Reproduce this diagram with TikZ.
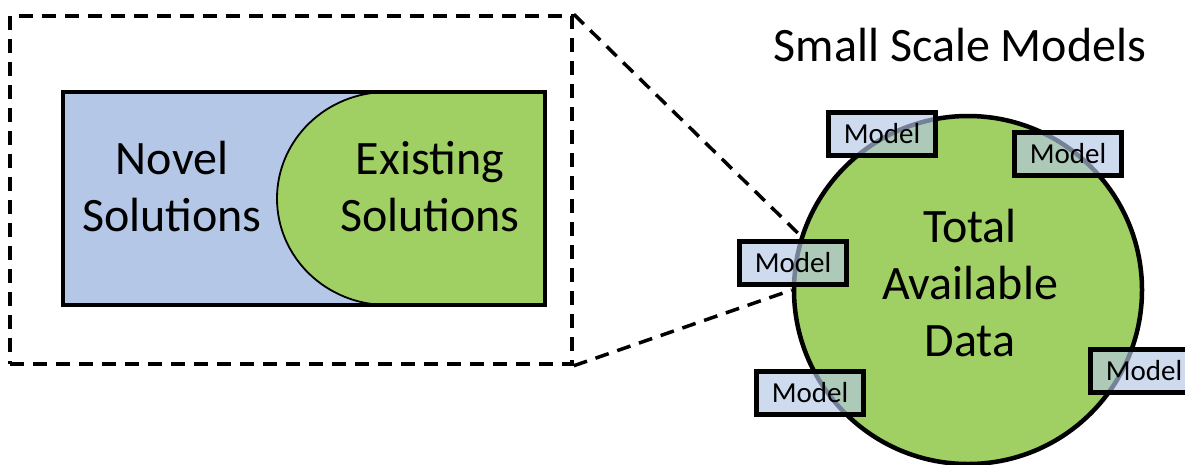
\documentclass[tikz,border=0pt]{standalone}
\usepackage{fontspec}
\setmainfont{Carlito}
\definecolor{bleu}{RGB}{180,199,231}
\definecolor{vert}{RGB}{160,207,99}
\tikzset{
  texte/.style={align=center,font=\fontsize{48}{57}\selectfont},
  modele/.style={draw,line width=5pt,fill=bleu,fill opacity=0.65,text opacity=1,
    minimum width=107pt,minimum height=43pt,inner sep=0pt,font=\fontsize{29}{34}\selectfont},
  tirets/.style={line width=3.5pt,dash pattern=on 14pt off 9pt}
}
\begin{document}
\begin{tikzpicture}[x=1pt,y=-1pt]
\useasboundingbox (0,0) rectangle (1185,464);
\clip (0,0) rectangle (1185,464);

% le zoom
\node (zoom) [draw,tirets,minimum width=562pt,minimum height=348pt] at (291,190) {};
\fill[bleu] (63,92) rectangle (545,305);
\draw[fill=vert,line width=1.8pt] (387,92) -- (545,92) -- (545,305) -- (387,305)
  arc[start angle=90,end angle=270,x radius=110,y radius=106.5];
\draw[line width=4.5pt] (63,92) rectangle (545,305);
\node (novel) [texte] at (172,187) {Novel\\Solutions};
\node (exist) [texte] at (430,187) {Existing\\Solutions};

% les donnees
\node (data) [circle,draw,line width=4.5pt,fill=vert,minimum size=348pt,inner sep=0pt] at (968,290) {};
\node (total) [texte] at (970,283) {Total\\Available\\Data};
\node (titre) [texte] at (960,45) {Small Scale Models};
\draw[tirets] (zoom.north east) -- (data.162);
\draw[tirets] (zoom.south east) -- (data.180);

% les modeles
\node (m1) [modele] at (882,134) {Model};
\node (m2) [modele] at (1068,154) {Model};
\node (m3) [modele] at (793,263) {Model};
\node (m4) [modele] at (810,393) {Model};
\node (m5) [modele] at (1144,371) {Model};
\end{tikzpicture}
\end{document}
